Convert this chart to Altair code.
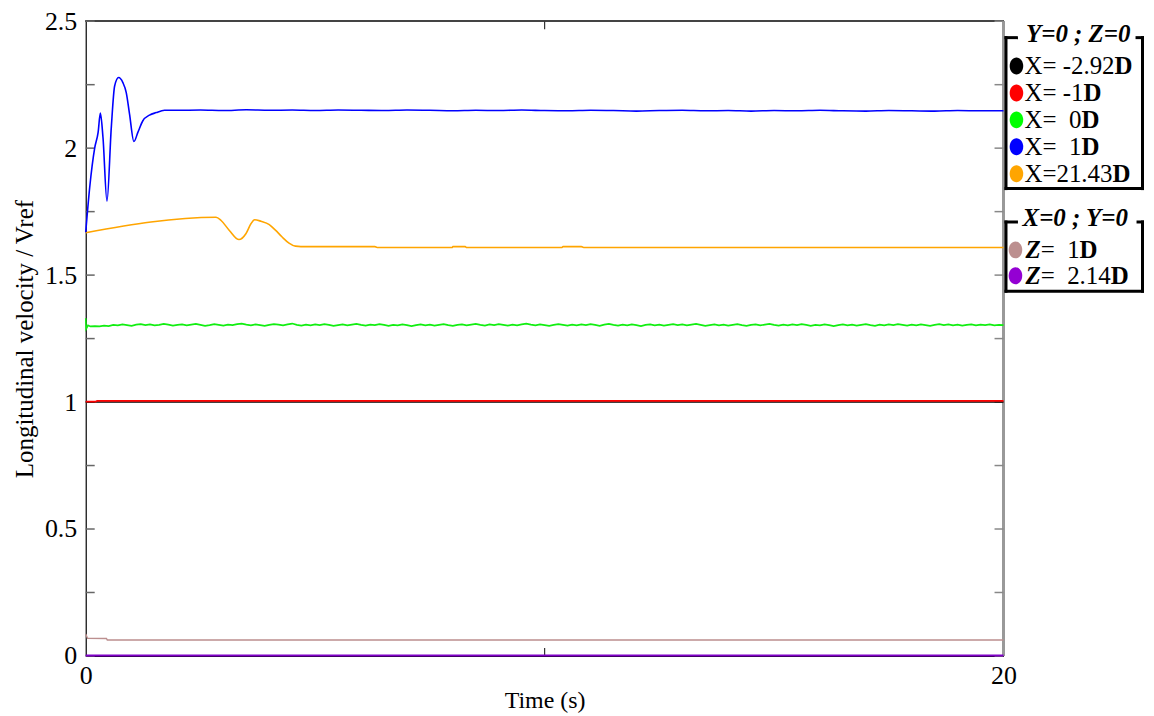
import altair as alt
import pandas as pd

FONT = "Liberation Serif"

# ---------------- data ----------------
black_t = [0, 20]
black_v = [1.000, 1.000]

red_t = [0, 0.22, 0.25, 20]
red_v = [1.002, 1.002, 1.005, 1.005]

green_head_t = [0, 0.01, 0.05, 0.1, 0.2, 0.3]
green_head_v = [1.330, 1.288, 1.302, 1.298, 1.299, 1.298]
green_tail_v = [
    1.301, 1.299, 1.304, 1.302, 1.306, 1.303, 1.300, 1.305, 1.307, 1.303,
    1.306, 1.302, 1.304, 1.308, 1.305, 1.301, 1.304, 1.306, 1.302, 1.305,
    1.308, 1.304, 1.300, 1.303, 1.307, 1.304, 1.301, 1.305, 1.303, 1.307,
    1.309, 1.305, 1.302, 1.306, 1.303, 1.300, 1.304, 1.307, 1.305, 1.302,
    1.306, 1.309, 1.304, 1.301, 1.305, 1.302, 1.306, 1.303, 1.307, 1.304,
    1.300, 1.303, 1.306, 1.302, 1.305, 1.308, 1.304, 1.301, 1.305, 1.303,
    1.307, 1.304, 1.300, 1.304, 1.302, 1.306, 1.303, 1.299, 1.303, 1.306,
    1.302, 1.305, 1.301, 1.304, 1.307, 1.303, 1.300, 1.304, 1.306, 1.302,
    1.305, 1.308, 1.304, 1.301, 1.306, 1.303, 1.307, 1.304, 1.301, 1.305,
    1.302, 1.306, 1.309, 1.305, 1.302, 1.306, 1.303, 1.300, 1.304, 1.307,
    1.304, 1.301, 1.305, 1.302, 1.306, 1.303, 1.307, 1.304, 1.300, 1.305,
    1.308, 1.304, 1.301, 1.305, 1.302, 1.306, 1.303, 1.299, 1.304, 1.306,
    1.302, 1.305, 1.301, 1.304, 1.307, 1.303, 1.306, 1.302, 1.305, 1.308,
    1.304, 1.300, 1.303, 1.306, 1.302, 1.305, 1.301, 1.304, 1.307, 1.303,
    1.300, 1.304, 1.306, 1.302, 1.305, 1.308, 1.304, 1.301, 1.305, 1.302,
    1.306, 1.303, 1.307, 1.304, 1.300, 1.304, 1.302, 1.306, 1.303, 1.299,
    1.303, 1.306, 1.302, 1.305, 1.301, 1.304, 1.307, 1.303, 1.300, 1.305,
    1.302, 1.306, 1.303, 1.307, 1.304, 1.301, 1.305, 1.302, 1.306, 1.303,
    1.300, 1.304, 1.307, 1.303, 1.306, 1.302, 1.305, 1.301, 1.304, 1.306,
    1.302, 1.305, 1.303, 1.306, 1.302, 1.304, 1.303,
]

blue_head_t = [0, 0.087, 0.195, 0.27, 0.319, 0.376, 0.463, 0.557, 0.63, 0.717,
               0.81, 0.883, 0.955, 1.05, 1.136, 1.245, 1.39, 1.535, 1.716]
blue_head_v = [1.669, 1.846, 2.000, 2.062, 2.138, 2.042, 1.791, 2.081, 2.245, 2.278,
               2.258, 2.219, 2.134, 2.026, 2.062, 2.108, 2.130, 2.140, 2.149]
blue_tail_v = [
    2.149, 2.150, 2.148, 2.151, 2.149, 2.150, 2.148, 2.150, 2.149, 2.148,
    2.150, 2.149, 2.147, 2.149, 2.148, 2.150, 2.148, 2.147, 2.149, 2.148,
    2.146, 2.148, 2.149, 2.147, 2.148, 2.146, 2.148, 2.147, 2.149, 2.147,
    2.146, 2.148, 2.147, 2.146, 2.148, 2.147, 2.147,
]

orange_t = [0, 2.84, 2.95, 3.13, 3.34, 3.49, 3.6, 3.68, 3.82, 4.0, 4.14, 4.28,
            4.43, 4.57, 4.81, 6.3, 6.35, 7.99, 8.0, 8.27, 8.3, 10.38, 10.4,
            10.8, 10.85, 20]
orange_v = [1.667, 1.728, 1.715, 1.676, 1.640, 1.663, 1.702, 1.718, 1.712, 1.699,
            1.676, 1.650, 1.626, 1.614, 1.612, 1.612, 1.609, 1.609, 1.612, 1.612,
            1.609, 1.609, 1.612, 1.612, 1.609, 1.609]

brown_t = [0, 0.04, 0.45, 0.47, 20]
brown_v = [0.086, 0.070, 0.069, 0.063, 0.063]

purple_t = [0, 20]
purple_v = [0.002, 0.002]

# legend text
legend1_title = "Y=0 ; Z=0"
legend1_labels = ["X= -2.92", "X= -1", "X=\u00a0\u00a00", "X=\u00a0\u00a01", "X=21.43"]
legend1_colors = ["#000000", "#ff0000", "#00ff00", "#0000ff", "#ffa500"]
legend2_title = "X=0 ; Y=0"
legend2_prefix = ["Z", "Z"]
legend2_labels = ["=\u00a0\u00a01", "=\u00a0\u00a02.14"]
legend2_colors = ["#bc8f8f", "#9400d3"]
unit_label = "D"

y_tick_values = [0, 0.25, 0.5, 0.75, 1.0, 1.25, 1.5, 1.75, 2.0, 2.25, 2.5]
y_label_values = [0, 0.5, 1.0, 1.5, 2.0, 2.5]
x_label_values = [0, 20]
x_tick_values = [10]

# ---------------- layout ----------------
W, H = 921, 637
LFS = 25  # legend font size

xs = alt.Scale(domain=[0, 20], nice=False, zero=False)
ys = alt.Scale(domain=[0, 2.5], nice=False, zero=False)

xaxis = alt.Axis(values=x_label_values, title="Time (s)", ticks=False, tickSize=0,
                 grid=False, labelFont=FONT, labelFontSize=26, labelColor="black",
                 labelPadding=7, labelFlush=False, domainColor="black", domainWidth=1.2,
                 titleFont=FONT, titleFontSize=24, titleFontWeight="normal",
                 titleColor="black", titlePadding=0)
yaxis = alt.Axis(values=y_label_values, format=".1~f", title="Longitudinal velocity / Vref",
                 ticks=False, tickSize=0, grid=False, labelFont=FONT, labelFontSize=26,
                 labelColor="black", labelPadding=9, labelFlush=False,
                 domainColor="black", domainWidth=1.2, titleFont=FONT, titleFontSize=25,
                 titleFontWeight="normal", titleColor="black", titlePadding=7)


def series(t, v, color, width, interp="linear"):
    df = pd.DataFrame({"t": t, "v": v})
    return alt.Chart(df).mark_line(color=color, strokeWidth=width, interpolate=interp).encode(
        x=alt.X("t:Q", scale=xs, axis=xaxis),
        y=alt.Y("v:Q", scale=ys, axis=yaxis),
    )


green_t = green_head_t + [0.4 + 0.1 * i for i in range(len(green_tail_v))]
green_v = green_head_v + green_tail_v
blue_t = blue_head_t + [2.0 + 18.0 * i / (len(blue_tail_v) - 1) for i in range(len(blue_tail_v))]
blue_v = blue_head_v + blue_tail_v

lines = [
    series(purple_t, purple_v, "#8000c8", 2),
    series(brown_t, brown_v, "#bc8f8f", 1.4),
    series(black_t, black_v, "#000000", 1.6),
    series(red_t, red_v, "#ff0000", 1.8),
    series(green_t, green_v, "#11ee11", 1.6),
    series(orange_t, orange_v, "#ffa500", 1.6, "monotone"),
    series(blue_t, blue_v, "#0000ff", 1.6, "monotone"),
]

ytick_df = pd.DataFrame({"v": y_tick_values})
xtick_df = pd.DataFrame({"t": x_tick_values})
ticks = [
    alt.Chart(ytick_df).mark_rule(color="#666666", strokeWidth=1.5).encode(
        y=alt.Y("v:Q", scale=ys, axis=yaxis), x=alt.value(0), x2=alt.value(9)),
    alt.Chart(ytick_df).mark_rule(color="#888888", strokeWidth=1.5).encode(
        y=alt.Y("v:Q", scale=ys, axis=yaxis), x=alt.value(W - 9), x2=alt.value(W)),
    alt.Chart(xtick_df).mark_rule(color="#333333", strokeWidth=1.2).encode(
        x=alt.X("t:Q", scale=xs, axis=xaxis), y=alt.value(H - 8), y2=alt.value(H)),
    alt.Chart(xtick_df).mark_rule(color="#333333", strokeWidth=1.2).encode(
        x=alt.X("t:Q", scale=xs, axis=xaxis), y=alt.value(0), y2=alt.value(8)),
]
frame = [
    alt.Chart(ytick_df).mark_rule(color="#444444", strokeWidth=1.2).encode(
        x=alt.value(0), x2=alt.value(W), y=alt.value(0)),
    alt.Chart(ytick_df).mark_rule(color="#999999", strokeWidth=2).encode(
        x=alt.value(W), y=alt.value(0), y2=alt.value(H)),
]

main = alt.layer(*frame, *ticks, *lines)

# ---------------- custom legend ----------------
CW = {"X": 722, "Z": 611, "=": 564, " ": 250, "\u00a0": 250, "-": 333, ".": 250}


def text_width(s, size):
    return sum(CW.get(c, 500) for c in s) * size / 1000.0


ELLIPSE = ("M0,-1 C0.45,-1 0.8,-0.55 0.8,0 C0.8,0.55 0.45,1 0,1 "
           "C-0.45,1 -0.8,0.55 -0.8,0 C-0.8,-0.55 -0.45,-1 0,-1 Z")

L1_top, L1_bot = 16.5, 168
L2_top, L2_bot = 201.5, 271
BL, BR = 923.5, 1060.5

seg = []
for top, bot, tl, tr in [(L1_top, L1_bot, 934, 1055), (L2_top, L2_bot, 934, 1056)]:
    seg += [(BL, BL, top, bot), (BR, BR, top, bot), (BL, BR, bot, bot),
            (BL, tl, top, top), (tr, BR, top, top)]
seg_df = pd.DataFrame(seg, columns=["x", "x2", "y", "y2"])

sym_rows, reg_rows, bold_rows, bi_rows = [], [], [], []
for i, (lab, col) in enumerate(zip(legend1_labels, legend1_colors)):
    y = 45 + 27 * i
    sym_rows.append({"x": 934, "y": y, "c": col})
    reg_rows.append({"x": 942, "y": y, "label": lab})
    bold_rows.append({"x": 942 + text_width(lab, LFS), "y": y, "label": unit_label})
for i, (pre, lab, col) in enumerate(zip(legend2_prefix, legend2_labels, legend2_colors)):
    y = 229.5 + 26 * i
    sym_rows.append({"x": 933, "y": y, "c": col})
    bi_rows.append({"x": 943, "y": y, "label": pre})
    x0 = 943 + text_width(pre, LFS)
    reg_rows.append({"x": x0, "y": y, "label": lab})
    bold_rows.append({"x": x0 + text_width(lab, LFS), "y": y, "label": unit_label})
title_rows = [{"x": 996, "y": 12.5, "label": legend1_title},
              {"x": 993, "y": 197.5, "label": legend2_title}]

PX = dict(scale=None, axis=None)


def txt(rows, **kw):
    return alt.Chart(pd.DataFrame(rows)).mark_text(
        font=FONT, fontSize=LFS, baseline="middle", color="black", **kw).encode(
        x=alt.X("x:Q", **PX), y=alt.Y("y:Q", **PX), text="label:N")


legend = alt.layer(
    alt.Chart(seg_df).mark_rule(color="black", strokeWidth=3, strokeCap="square").encode(
        x=alt.X("x:Q", **PX), x2="x2:Q", y=alt.Y("y:Q", **PX), y2="y2:Q"),
    alt.Chart(pd.DataFrame(sym_rows)).mark_point(
        shape=ELLIPSE, size=289, filled=True, opacity=1).encode(
        x=alt.X("x:Q", **PX), y=alt.Y("y:Q", **PX), color=alt.Color("c:N", scale=None)),
    txt(reg_rows, align="left"),
    txt(bold_rows, align="left", fontWeight="bold"),
    txt(bi_rows, align="left", fontWeight="bold", fontStyle="italic"),
    txt(title_rows, align="center", fontWeight="bold", fontStyle="italic"),
)

chart = alt.layer(main, legend).resolve_scale(x="independent", y="independent").properties(
    width=W, height=H,
    autosize=alt.AutoSizeParams(type="none"),
    padding={"left": 78, "top": 12, "right": 143, "bottom": 58},
).configure_view(stroke=None)

chart.save("out.html", embed_options={"renderer": "svg", "actions": False})
